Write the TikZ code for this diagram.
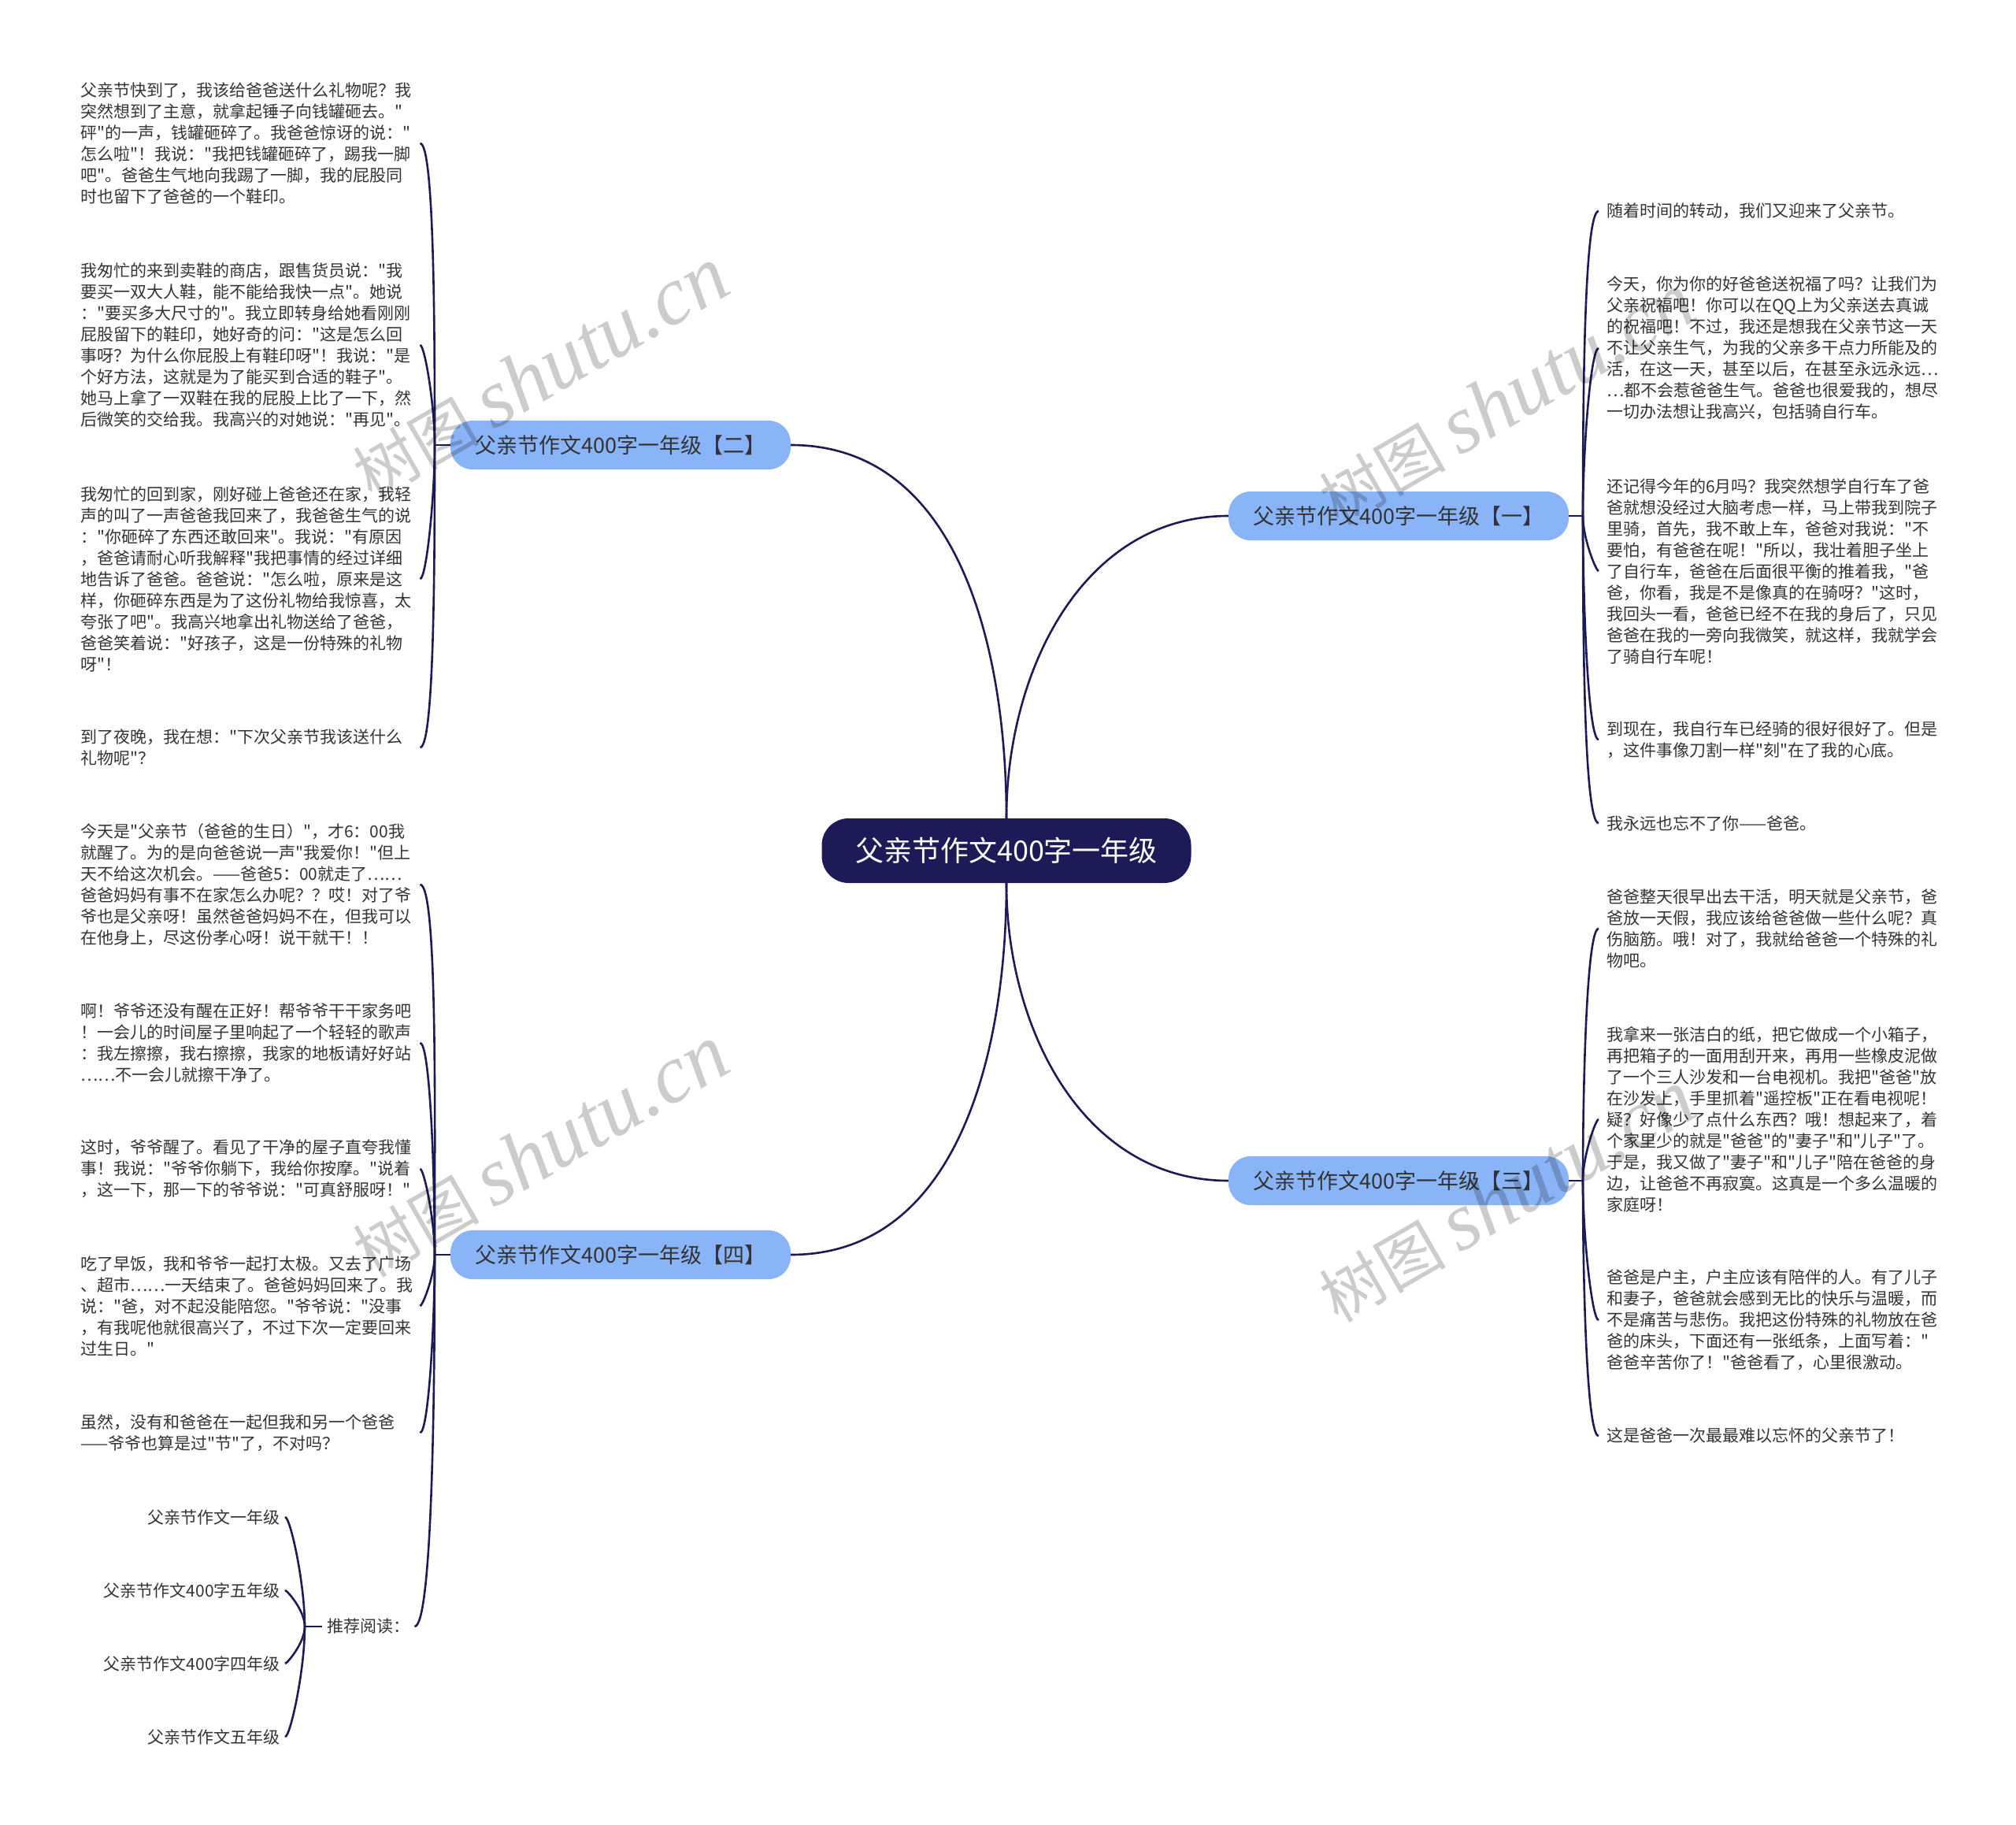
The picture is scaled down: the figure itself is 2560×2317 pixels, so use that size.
\documentclass[tikz,border=0pt]{standalone}
\usepackage{fontspec}
\setmainfont{Noto Sans CJK SC}[Ligatures=TeXOff]
\newfontfamily\wmfont{Liberation Serif}
\definecolor{navy}{HTML}{1C1B57}
\definecolor{skyblue}{HTML}{8AB4F8}
\definecolor{inkgray}{HTML}{333333}

\begin{document}
\begin{tikzpicture}[x=1pt, y=1pt,
    root/.style ={fill=navy, text=white, rounded corners=34pt, minimum width=469pt, minimum height=82pt, font=\fontsize{36}{36}\selectfont},
    branch/.style ={fill=skyblue, text=inkgray, rounded corners=28pt, minimum width=432pt, minimum height=62pt, font=\fontsize{27}{27}\selectfont},
    leaf/.style ={text=inkgray, align=left, text width=425pt, inner xsep=6pt, inner ysep=0pt, anchor=west, font=\fontsize{21}{27}\selectfont},
    leafR/.style ={leaf, inner xsep=10pt},
    item/.style ={text=inkgray, inner xsep=6pt, inner ysep=0pt, font=\fontsize{21}{27}\selectfont},
    link/.style ={draw=navy, line width=2.6pt},
    rise/.style ={out=90, in=#1, in looseness=0.12},
    fall/.style ={out=-90, in=#1, in looseness=0.12},
    watermark/.style ={rotate=30, text=black, text opacity=0.2, font=\fontsize{80}{80}\selectfont}]
   \useasboundingbox (0,0) rectangle (2560,-2317);

   \node[root] (root) at (1278,-1080) {父亲节作文400字一年级};
   \node[branch] (two) at (788,-565) {父亲节作文400字一年级【二】};
   \node[branch] (four) at (788,-1593) {父亲节作文400字一年级【四】};
   \node[branch] (one) at (1776,-655) {父亲节作文400字一年级【一】};
   \node[branch] (three) at (1776,-1499) {父亲节作文400字一年级【三】};

   \coordinate (twohub) at (552,-565);
   \coordinate (fourhub) at (552,-1593);
   \coordinate (onehub) at (2010,-655);
   \coordinate (threehub) at (2010,-1499);
   \coordinate (rechub) at (387,-2065);

   % 二
   \node[leaf] (two1) at (96,-182) {父亲节快到了，我该给爸爸送什么礼物呢？我\\突然想到了主意，就拿起锤子向钱罐砸去。"\\砰"的一声，钱罐砸碎了。我爸爸惊讶的说："\\怎么啦"！我说："我把钱罐砸碎了，踢我一脚\\吧"。爸爸生气地向我踢了一脚，我的屁股同\\时也留下了爸爸的一个鞋印。};
   \node[leaf] (two2) at (96,-438) {我匆忙的来到卖鞋的商店，跟售货员说："我\\要买一双大人鞋，能不能给我快一点"。她说\\："要买多大尺寸的"。我立即转身给她看刚刚\\屁股留下的鞋印，她好奇的问："这是怎么回\\事呀？为什么你屁股上有鞋印呀"！我说："是\\个好方法，这就是为了能买到合适的鞋子"。\\她马上拿了一双鞋在我的屁股上比了一下，然\\后微笑的交给我。我高兴的对她说："再见"。};
   \node[leaf] (two3) at (96,-735) {我匆忙的回到家，刚好碰上爸爸还在家，我轻\\声的叫了一声爸爸我回来了，我爸爸生气的说\\："你砸碎了东西还敢回来"。我说："有原因\\，爸爸请耐心听我解释"我把事情的经过详细\\地告诉了爸爸。爸爸说："怎么啦，原来是这\\样，你砸碎东西是为了这份礼物给我惊喜，太\\夸张了吧"。我高兴地拿出礼物送给了爸爸，\\爸爸笑着说："好孩子，这是一份特殊的礼物\\呀"！};
   \node[leaf] (two4) at (96,-949) {到了夜晚，我在想："下次父亲节我该送什么\\礼物呢"？};

   % 四
   \node[leaf] (four1) at (96,-1123) {今天是"父亲节（爸爸的生日）"，才6：00我\\就醒了。为的是向爸爸说一声"我爱你！"但上\\天不给这次机会。——爸爸5：00就走了……\\爸爸妈妈有事不在家怎么办呢？？哎！对了爷\\爷也是父亲呀！虽然爸爸妈妈不在，但我可以\\在他身上，尽这份孝心呀！说干就干！！};
   \node[leaf] (four2) at (96,-1324) {啊！爷爷还没有醒在正好！帮爷爷干干家务吧\\！一会儿的时间屋子里响起了一个轻轻的歌声\\：我左擦擦，我右擦擦，我家的地板请好好站\\……不一会儿就擦干净了。};
   \node[leaf] (four3) at (96,-1484) {这时，爷爷醒了。看见了干净的屋子直夸我懂\\事！我说："爷爷你躺下，我给你按摩。"说着\\，这一下，那一下的爷爷说："可真舒服呀！"};
   \node[leaf] (four4) at (96,-1658) {吃了早饭，我和爷爷一起打太极。又去了广场\\、超市……一天结束了。爸爸妈妈回来了。我\\说："爸，对不起没能陪您。"爷爷说："没事\\，有我呢他就很高兴了，不过下次一定要回来\\过生日。"};
   \node[leaf] (four5) at (96,-1819) {虽然，没有和爸爸在一起但我和另一个爸爸\\——爷爷也算是过"节"了，不对吗？};
   \node[item, anchor=west] (rec) at (409,-2065) {推荐阅读：};
   \node[item, anchor=east] (rec1) at (362,-1926) {父亲节作文一年级};
   \node[item, anchor=east] (rec2) at (362,-2019) {父亲节作文400字五年级};
   \node[item, anchor=east] (rec3) at (362,-2112) {父亲节作文400字四年级};
   \node[item, anchor=east] (rec4) at (362,-2205) {父亲节作文五年级};

   % 一
   \node[leafR] (one1) at (2030,-268) {随着时间的转动，我们又迎来了父亲节。};
   \node[leafR] (one2) at (2030,-442) {今天，你为你的好爸爸送祝福了吗？让我们为\\父亲祝福吧！你可以在QQ上为父亲送去真诚\\的祝福吧！不过，我还是想我在父亲节这一天\\不让父亲生气，为我的父亲多干点力所能及的\\活，在这一天，甚至以后，在甚至永远永远…\\…都不会惹爸爸生气。爸爸也很爱我的，想尽\\一切办法想让我高兴，包括骑自行车。};
   \node[leafR] (one3) at (2030,-725) {还记得今年的6月吗？我突然想学自行车了爸\\爸就想没经过大脑考虑一样，马上带我到院子\\里骑，首先，我不敢上车，爸爸对我说："不\\要怕，有爸爸在呢！"所以，我壮着胆子坐上\\了自行车，爸爸在后面很平衡的推着我，"爸\\爸，你看，我是不是像真的在骑呀？"这时，\\我回头一看，爸爸已经不在我的身后了，只见\\爸爸在我的一旁向我微笑，就这样，我就学会\\了骑自行车呢！};
   \node[leafR] (one4) at (2030,-939) {到现在，我自行车已经骑的很好很好了。但是\\，这件事像刀割一样"刻"在了我的心底。};
   \node[leafR] (one5) at (2030,-1045) {我永远也忘不了你——爸爸。};

   % 三
   \node[leafR] (three1) at (2030,-1179) {爸爸整天很早出去干活，明天就是父亲节，爸\\爸放一天假，我应该给爸爸做一些什么呢？真\\伤脑筋。哦！对了，我就给爸爸一个特殊的礼\\物吧。};
   \node[leafR] (three2) at (2030,-1421) {我拿来一张洁白的纸，把它做成一个小箱子，\\再把箱子的一面用刮开来，再用一些橡皮泥做\\了一个三人沙发和一台电视机。我把"爸爸"放\\在沙发上，手里抓着"遥控板"正在看电视呢！\\疑？好像少了点什么东西？哦！想起来了，着\\个家里少的就是"爸爸"的"妻子"和"儿子"了。\\于是，我又做了"妻子"和"儿子"陪在爸爸的身\\边，让爸爸不再寂寞。这真是一个多么温暖的\\家庭呀！};
   \node[leafR] (three3) at (2030,-1676) {爸爸是户主，户主应该有陪伴的人。有了儿子\\和妻子，爸爸就会感到无比的快乐与温暖，而\\不是痛苦与悲伤。我把这份特殊的礼物放在爸\\爸的床头，下面还有一张纸条，上面写着："\\爸爸辛苦你了！"爸爸看了，心里很激动。};
   \node[leafR] (three4) at (2030,-1823) {这是爸爸一次最最难以忘怀的父亲节了！};

   \draw[link] (root.north) to[out=90, in=0] (two.east);
   \draw[link] (root.north) to[out=90, in=180] (one.west);
   \draw[link] (root.south) to[out=-90, in=0] (four.east);
   \draw[link] (root.south) to[out=-90, in=180] (three.west);

   \draw[link] (two.west) -- (twohub);
   \draw[link] (twohub) to[rise=0] (two1.east);
   \draw[link] (twohub) to[rise=0] (two2.east);
   \draw[link] (twohub) to[fall=0] (two3.east);
   \draw[link] (twohub) to[fall=0] (two4.east);

   \draw[link] (four.west) -- (fourhub);
   \draw[link] (fourhub) to[rise=0] (four1.east);
   \draw[link] (fourhub) to[rise=0] (four2.east);
   \draw[link] (fourhub) to[rise=0] (four3.east);
   \draw[link] (fourhub) to[fall=0] (four4.east);
   \draw[link] (fourhub) to[fall=0] (four5.east);
   \draw[link] (fourhub) to[fall=0] (rec.east);

   \draw[link] (rec.west) -- (rechub);
   \draw[link] (rechub) to[rise=0] (rec1.east);
   \draw[link] (rechub) to[rise=0] (rec2.east);
   \draw[link] (rechub) to[fall=0] (rec3.east);
   \draw[link] (rechub) to[fall=0] (rec4.east);

   \draw[link] (one.east) -- (onehub);
   \draw[link] (onehub) to[rise=180] (one1.west);
   \draw[link] (onehub) to[rise=180] (one2.west);
   \draw[link] (onehub) to[fall=180] (one3.west);
   \draw[link] (onehub) to[fall=180] (one4.west);
   \draw[link] (onehub) to[fall=180] (one5.west);

   \draw[link] (three.east) -- (threehub);
   \draw[link] (threehub) to[rise=180] (three1.west);
   \draw[link] (threehub) to[rise=180] (three2.west);
   \draw[link] (threehub) to[fall=180] (three3.west);
   \draw[link] (threehub) to[fall=180] (three4.west);

   % watermarks
   \node[watermark] (wm1) at (686,-474) {树图 {\fontsize{105}{105}\wmfont\itshape shutu.cn}};
   \node[watermark] (wm2) at (1913,-507) {树图 {\fontsize{105}{105}\wmfont\itshape shutu.cn}};
   \node[watermark] (wm3) at (686,-1462) {树图 {\fontsize{105}{105}\wmfont\itshape shutu.cn}};
   \node[watermark] (wm4) at (1913,-1519) {树图 {\fontsize{105}{105}\wmfont\itshape shutu.cn}};
 \end{tikzpicture}
\end{document}
